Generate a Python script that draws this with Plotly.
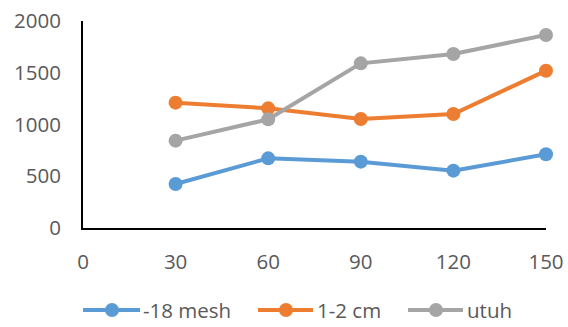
import plotly.graph_objects as go

# Time points (x) and measured values for each particle size
days = [30, 60, 90, 120, 150]
mesh18 = [425, 673, 641, 554, 712]
cm12 = [1211, 1156, 1053, 1101, 1520]
utuh = [844, 1050, 1591, 1681, 1865]

series_names = ["-18 mesh", "1-2 cm", "utuh"]
series_colors = ["#5B9BD5", "#ED7D31", "#A5A5A5"]
series_values = [mesh18, cm12, utuh]

x_ticks = [0, 30, 60, 90, 120, 150]
y_ticks = [0, 500, 1000, 1500, 2000]

FONT = "Open Sans"
TEXT_COLOR = "#595959"
FS = 20.5

fig = go.Figure()
for name, color, vals in zip(series_names, series_colors, series_values):
    fig.add_trace(go.Scatter(
        x=days, y=vals, name=name, mode="lines+markers",
        line=dict(color=color, width=4),
        marker=dict(color=color, size=14),
        showlegend=False, cliponaxis=False,
    ))

# Plot area in pixels, used to place the hand-built legend
L, R, T, B = 83, 546, 21, 228
W, H = 568, 327


def px_x(px):
    return (px - L) / (R - L)


def px_y(py):
    return (B - py) / (B - T)


legend_items = [(83, 140, 112, 141), (258, 313, 286, 315), (408, 463, 436, 465)]
legend_y = 310
shapes = []
annotations = []
for (x0, x1, xm, xt), name, color in zip(legend_items, series_names, series_colors):
    shapes.append(dict(type="line", xref="paper", yref="paper",
                       x0=px_x(x0), x1=px_x(x1), y0=px_y(legend_y), y1=px_y(legend_y),
                       line=dict(color=color, width=4)))
    shapes.append(dict(type="circle", xref="paper", yref="paper",
                       x0=px_x(xm - 7), x1=px_x(xm + 7),
                       y0=px_y(legend_y + 7), y1=px_y(legend_y - 7),
                       fillcolor=color, line=dict(color=color, width=0)))
    annotations.append(dict(xref="paper", yref="paper", x=px_x(xt), y=px_y(legend_y),
                            text=name, showarrow=False, xanchor="left", yanchor="middle",
                            font=dict(family=FONT, size=FS, color=TEXT_COLOR)))

fig.update_layout(
    width=W, height=H,
    margin=dict(l=L, r=W - R, t=T, b=H - B, autoexpand=False),
    paper_bgcolor="white", plot_bgcolor="white",
    font=dict(family=FONT, size=FS, color=TEXT_COLOR),
    shapes=shapes, annotations=annotations,
    showlegend=False,
)
fig.update_xaxes(
    range=[0, 150], tickvals=x_ticks, showgrid=False, zeroline=False,
    showline=True, linecolor="#000000", linewidth=2, ticks="", automargin=False,
    ticklabelstandoff=14, tickfont=dict(family=FONT, size=FS, color=TEXT_COLOR),
)
fig.update_yaxes(
    range=[0, 2000], tickvals=y_ticks, showgrid=False, zeroline=False,
    showline=True, linecolor="#000000", linewidth=2, ticks="", automargin=False,
    ticklabelstandoff=16, tickfont=dict(family=FONT, size=FS, color=TEXT_COLOR),
)

fig.write_html("out.html")
